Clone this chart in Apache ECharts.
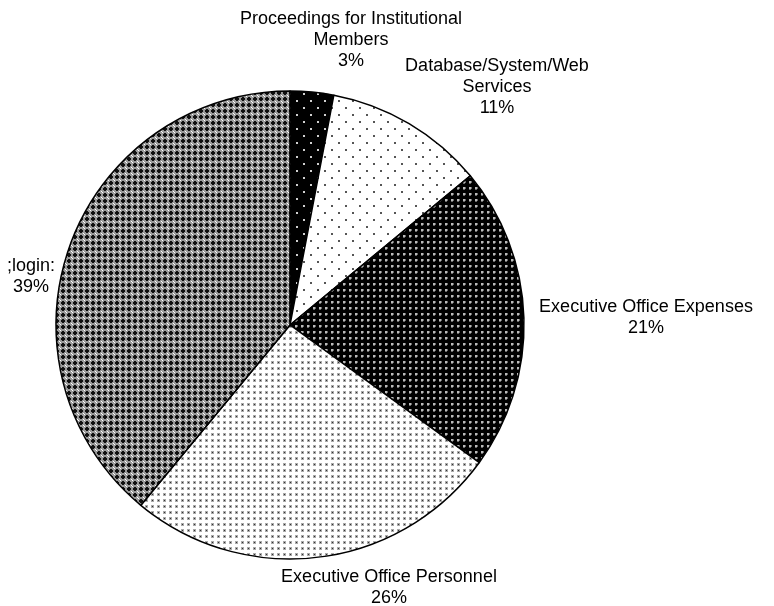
<!DOCTYPE html>
<html>
<head>
<meta charset="utf-8">
<script src="https://cdn.jsdelivr.net/npm/echarts@6/dist/echarts.min.js"></script>
<style>
html,body{margin:0;padding:0;background:#fff;}
#chart{width:774px;height:606px;}
</style>
</head>
<body>
<div id="chart"></div>
<script>
// 分类与数值
var categories = ['Proceedings for Institutional\nMembers', 'Database/System/Web\nServices', 'Executive Office Expenses', 'Executive Office Personnel', ';login:'];
var values = [3, 11, 21, 26, 39];

// 标签位置 (中心点)
var labelPos = [[351, 40], [497, 87], [646, 318], [389, 588], [31, 277]];

// 填充图案
function makePattern(w, h, bg, draw) {
    var c = document.createElement('canvas');
    c.width = w;
    c.height = h;
    var ctx = c.getContext('2d');
    ctx.fillStyle = bg;
    ctx.fillRect(0, 0, w, h);
    draw(ctx);
    return { image: c, repeat: 'repeat' };
}

var patterns = [
    // 黑底白点
    makePattern(14, 14, '#000', function (ctx) {
        ctx.fillStyle = '#d0d0d0';
        ctx.fillRect(2, 2, 2, 2);
        ctx.fillRect(9, 9, 2, 2);
    }),
    // 白底灰点
    makePattern(14, 14, '#fff', function (ctx) {
        ctx.fillStyle = '#555';
        ctx.fillRect(2, 2, 2, 2);
        ctx.fillRect(9, 9, 2, 2);
    }),
    // 黑底浅色方块
    makePattern(6, 6, '#000', function (ctx) {
        ctx.fillStyle = '#bbb';
        ctx.fillRect(1, 1, 2, 2);
        ctx.fillStyle = '#666';
        ctx.fillRect(3, 1, 1, 2);
        ctx.fillRect(1, 3, 2, 1);
    }),
    // 白底深色方块
    makePattern(6, 6, '#fff', function (ctx) {
        ctx.fillStyle = '#aaa';
        ctx.fillRect(1, 1, 3, 3);
        ctx.fillStyle = '#333';
        ctx.fillRect(2, 2, 1, 1);
    }),
    // 灰底黑十字
    makePattern(6, 6, '#9a9a9a', function (ctx) {
        ctx.fillStyle = '#111';
        ctx.fillRect(2, 1, 2, 4);
        ctx.fillRect(1, 2, 4, 2);
        ctx.fillStyle = '#fff';
        ctx.fillRect(5, 5, 1, 1);
        ctx.fillRect(0, 0, 1, 1);
    })
];

var pieData = [];
for (var i = 0; i < categories.length; i++) {
    pieData.push({
        name: categories[i],
        value: values[i],
        itemStyle: { color: patterns[i] }
    });
}

var myChart = echarts.init(document.getElementById('chart'));
var option = {
    animation: false,
    series: [{
        type: 'pie',
        center: [290, 325],
        radius: 234,
        startAngle: 90,
        clockwise: true,
        data: pieData,
        itemStyle: {
            borderColor: '#000',
            borderWidth: 1.5
        },
        label: {
            show: true,
            position: 'outside',
            overflow: 'none',
            formatter: function (p) {
                return p.name + '\n' + p.value + '%';
            },
            fontFamily: 'Liberation Sans, Arial, sans-serif',
            fontSize: 18,
            lineHeight: 21,
            color: '#000'
        },
        labelLine: { show: false },
        labelLayout: function (params) {
            var p = labelPos[params.dataIndex];
            return { x: p[0], y: p[1], align: 'center', verticalAlign: 'middle' };
        },
        emphasis: { disabled: true }
    }]
};
myChart.setOption(option);
</script>
</body>
</html>
